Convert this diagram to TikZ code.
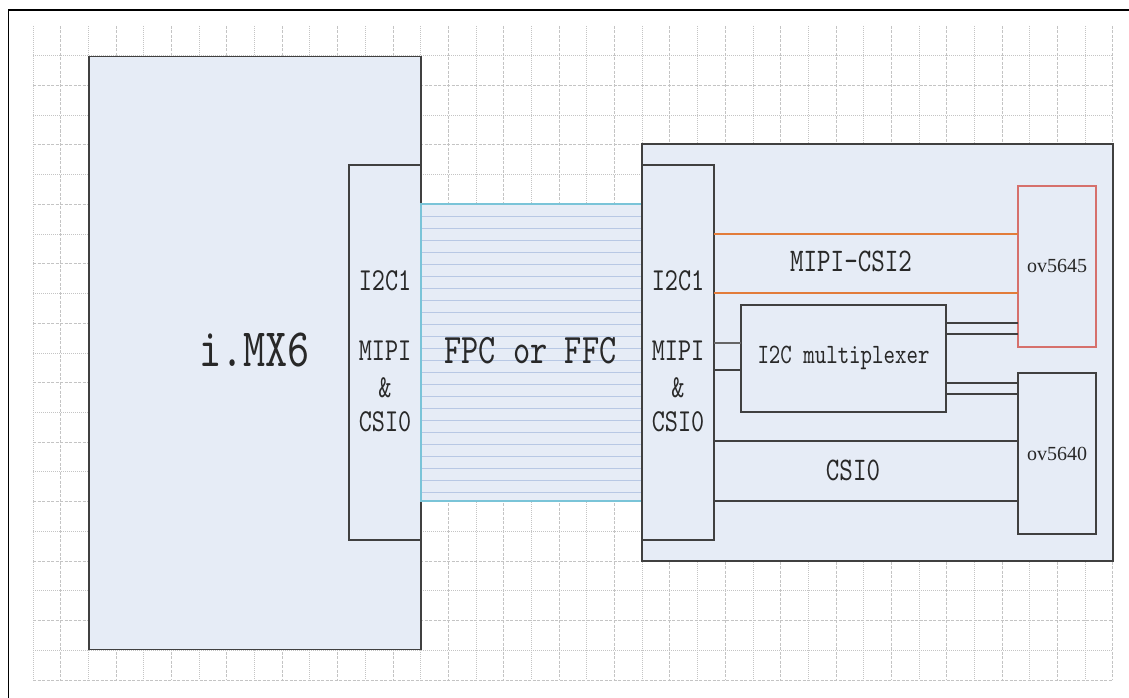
\documentclass[tikz,border=0pt]{standalone}
\usepackage{fontspec}
\newfontfamily\monof[FakeStretch=0.78]{lmmono10-regular.otf}
\newfontfamily\camfont{Liberation Serif}
\definecolor{boxfill}{RGB}{230,236,246}
\definecolor{boxline}{RGB}{64,64,64}
\definecolor{camred}{RGB}{214,112,108}
\definecolor{wireo}{RGB}{226,124,58}
\definecolor{fpcedge}{RGB}{122,196,216}
\definecolor{stripe}{RGB}{184,200,228}
\definecolor{gridc}{RGB}{196,196,196}
\definecolor{txt}{RGB}{40,40,40}
\begin{document}
\begin{tikzpicture}[x=1pt,y=-1pt,
  box/.style={draw=boxline, fill=boxfill, line width=1.4pt, inner sep=0pt, outer sep=0pt},
  cambox/.style={box, draw=camred},
  fpcbox/.style={draw=fpcedge, fill=boxfill, line width=1.2pt, inner sep=0pt, outer sep=0pt},
  lbl/.style={inner sep=0pt, text=txt, font=\monof\fontsize{32}{32}\selectfont},
  camlbl/.style={inner sep=0pt, text=txt, font=\camfont\fontsize{20}{20}\selectfont},
  wire/.style={draw=boxline, line width=1.3pt},
  owire/.style={draw=wireo, line width=1.2pt},
  gdash/.style={draw=gridc, line width=0.9pt, dash pattern=on 3pt off 1.5pt},
  gdot/.style={draw=gridc, line width=0.9pt, dash pattern=on 1pt off 1pt}]
\useasboundingbox (0,0) rectangle (1129,698);
% grid
\foreach \k in {0,...,39}{
  \pgfmathsetmacro{\gx}{33+27.69*\k}
  \ifodd\k \draw[gdash] (\gx,26) -- (\gx,680); \else \draw[gdot] (\gx,26) -- (\gx,680); \fi
}
\foreach \k in {1,...,22}{
  \pgfmathsetmacro{\gy}{26+29.727*\k}
  \ifodd\k \draw[gdot] (33,\gy) -- (1113,\gy); \else \draw[gdash] (33,\gy) -- (1113,\gy); \fi
}
% outer frame (top and left edges)
\draw[line width=1.5pt] (8.5,698) -- (8.5,10) -- (1129,10);
% blocks
\node[box, minimum width=332pt, minimum height=593pt] (imx) at (255,353.2) {};
\node[box, minimum width=72pt, minimum height=375pt] (lconn) at (385,352.5) {};
\node[fpcbox, minimum width=221pt, minimum height=297pt] (fpc) at (531.5,352.5) {};
\foreach \k in {1,...,24}{
  \draw[stripe, line width=0.9pt] ([yshift=-12pt*\k]fpc.north west) -- ([yshift=-12pt*\k]fpc.north east);
}
\draw[fpcedge, line width=1.2pt] (fpc.north west) rectangle (fpc.south east);
\node[box, minimum width=471pt, minimum height=417pt] (board) at (877.5,352.5) {};
\node[box, minimum width=72pt, minimum height=375pt] (rconn) at (678,352.5) {};
\node[box, minimum width=205pt, minimum height=107pt] (mux) at (843.5,358.5) {};
\node[cambox, minimum width=78pt, minimum height=161pt] (ov45) at (1057,266.5) {};
\node[box, minimum width=78pt, minimum height=161pt] (ov40) at (1057,453.5) {};
% labels
\node[lbl, font=\monof\fontsize{54}{54}\selectfont] (timx) at (254.5,350) {i.MX6};
\node[lbl, font=\monof\fontsize{42}{42}\selectfont] (tfpc) at (530.5,350.5) {FPC or FFC};
\node[lbl] (la) at (385,281) {I2C1};
\node[lbl] (lb) at (385,351) {MIPI};
\node[lbl] (lc) at (385,388) {\&};
\node[lbl] (ld) at (385,421.5) {CSI0};
\node[lbl] (ra) at (678,281) {I2C1};
\node[lbl] (rb) at (678,351) {MIPI};
\node[lbl] (rc) at (678,388) {\&};
\node[lbl] (rd) at (678,421.5) {CSI0};
\node[lbl, font=\monof\fontsize{33}{33}\selectfont] (tcsi2) at (851,261) {MIPI-CSI2};
\node[lbl, font=\monof\fontsize{33}{33}\selectfont] (tcsi0) at (853,470) {CSI0};
\node[lbl, font=\monof\fontsize{28}{28}\selectfont] (tmux) at (843.5,357.5) {I2C multiplexer};
\node[camlbl] (t45) at (1057,265.5) {ov5645};
\node[camlbl] (t40) at (1057,454) {ov5640};
% connections
\draw[owire] (rconn.east |- 0,234) -- (ov45.west |- 0,234);
\draw[owire] (rconn.east |- 0,293) -- (ov45.west |- 0,293);
\draw[wire, draw=gray!80!black] (rconn.east |- 0,343) -- (mux.west |- 0,343);
\draw[wire] (rconn.east |- 0,370) -- (mux.west |- 0,370);
\draw[wire] (mux.east |- 0,323) -- (ov45.west |- 0,323);
\draw[wire] (mux.east |- 0,334) -- (ov45.west |- 0,334);
\draw[wire] (mux.east |- 0,383) -- (ov40.west |- 0,383);
\draw[wire] (mux.east |- 0,394) -- (ov40.west |- 0,394);
\draw[wire] (rconn.east |- 0,441) -- (ov40.west |- 0,441);
\draw[wire] (rconn.east |- 0,501) -- (ov40.west |- 0,501);
\end{tikzpicture}
\end{document}
